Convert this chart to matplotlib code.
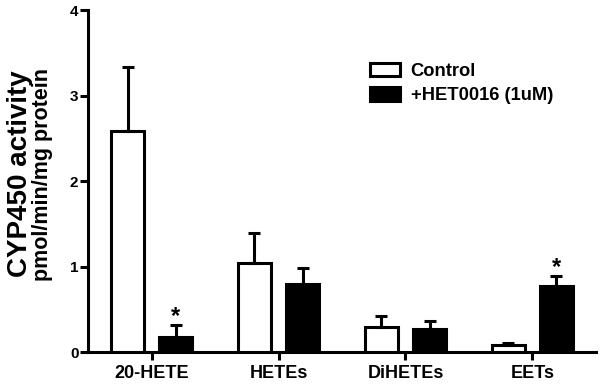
import numpy as np
import matplotlib
matplotlib.use("Agg")
import matplotlib.pyplot as plt

# Data
categories = ["20-HETE", "HETEs", "DiHETEs", "EETs"]
control = [2.58, 1.04, 0.29, 0.08]
control_err = [0.75, 0.35, 0.13, 0.03]
het0016 = [0.17, 0.79, 0.27, 0.77]
het0016_err = [0.15, 0.19, 0.09, 0.12]
significant = [True, False, False, True]

plt.rcParams['font.family'] = ['Liberation Sans', 'DejaVu Sans']
plt.rcParams['font.weight'] = 'bold'

fig = plt.figure(figsize=(6, 3.86), dpi=100)
ax = fig.add_axes([0.147, 0.088, 0.846, 0.886])

x = np.arange(len(categories))
w = 0.26
off = 0.19
lw = 2.2

ax.bar(x - off, control, w, color="white", edgecolor="black", linewidth=lw,
       yerr=[np.zeros(len(x)), control_err], capsize=4.5,
       error_kw=dict(elinewidth=lw, capthick=lw), label="Control", zorder=3)
ax.bar(x + off, het0016, w, color="black", edgecolor="black", linewidth=lw,
       yerr=[np.zeros(len(x)), het0016_err], capsize=4.5,
       error_kw=dict(elinewidth=lw, capthick=lw), label="+HET0016 (1uM)", zorder=3)

# significance stars
for i in range(len(x)):
    if significant[i]:
        ax.text(x[i] + off, het0016[i] + het0016_err[i] + 0.02, "*",
                ha="center", va="baseline", fontsize=17, fontweight="bold")

ax.set_xlim(-0.5, 3.5)
ax.set_ylim(0, 4)
ax.set_yticks([0, 1, 2, 3, 4])
ax.set_xticks(x)
ax.set_xticklabels(categories)
ax.tick_params(axis="y", width=lw, length=5.5, labelsize=11, pad=1.5)
ax.tick_params(axis="x", width=lw, length=5.5, labelsize=13, pad=4)
for s in ["top", "right"]:
    ax.spines[s].set_visible(False)
for s in ["left", "bottom"]:
    ax.spines[s].set_linewidth(lw)

# two-line y label, first line drawn larger as in the original
fig.text(0.011, 0.549, "CYP450 activity", rotation=90, ha="left", va="center",
         fontsize=20, fontweight="bold")
fig.text(0.053, 0.549, "pmol/min/mg protein", rotation=90, ha="left", va="center",
         fontsize=15.5, fontweight="bold")

ax.legend(loc="upper left", bbox_to_anchor=(0.617, 0.838),
          bbox_transform=fig.transFigure, frameon=False, borderpad=0,
          borderaxespad=0, fontsize=13.2, handlelength=1.6, handleheight=0.77,
          handletextpad=0.6, labelspacing=0.4)

fig.savefig("out.png", dpi=100)
